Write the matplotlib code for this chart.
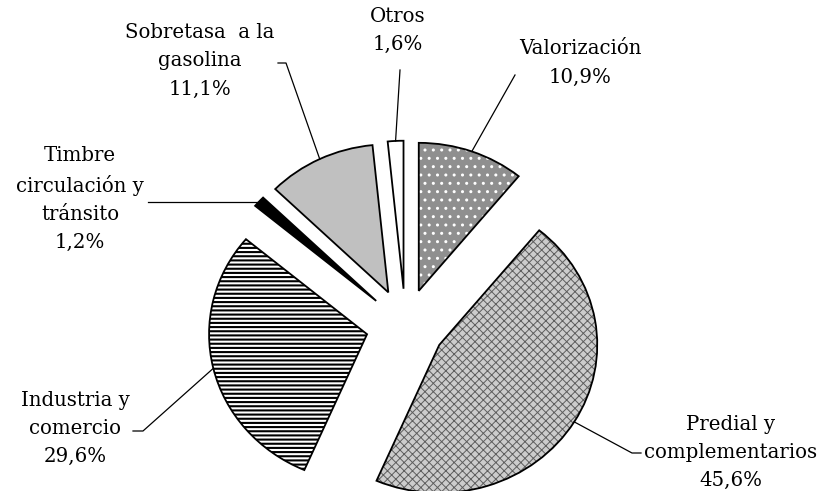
import numpy as np
import matplotlib.pyplot as plt

labels = ['Valorización', 'Predial y\ncomplementarios', 'Industria y\ncomercio',
          'Timbre\ncirculación y\ntránsito', 'Sobretasa  a la\ngasolina', 'Otros']
shares = [10.9, 45.6, 29.6, 1.2, 11.1, 1.6]

face = ['#8f8f8f', '#cccccc', 'white', 'black', '#c0c0c0', 'white']
hatch_col = ['white', '#5e5e5e', 'black', 'black', '#c0c0c0', 'white']
hatches = ['..', 'xxxx', '----', '', '', '']
hatch_lw = [1.0, 0.7, 1.5, 0.5, 0.5, 0.5]

# layout in pixels of the 823x491 picture (y from top)
cx, cy = 405.5, 325.7
rx, ry = 158, 148
text_pos = [(580, 63), (731, 452), (75, 428), (80, 199), (200, 61), (398, 30)]
leader = [[(515, 75)], [(632, 453), (641, 453)], [(143, 431), (133, 431)],
          [(148, None)], [(286, 63), (278, 63)], [(400, 70)]]


def px(x, y):
    return (x - cx) / rx, (cy - y) / ry


plt.rcParams['font.family'] = ['DejaVu Serif']
plt.rcParams['hatch.linewidth'] = 1.0

fig = plt.figure(figsize=(8.23, 4.91), dpi=100)
ax = fig.add_axes([0, 0, 1, 1])

explode = [0.25] * len(shares)
wedges, _ = ax.pie(shares, explode=explode, startangle=90, counterclock=False,
                   colors=face, wedgeprops={'linewidth': 0})
for w, h, hc, lw in zip(wedges, hatches, hatch_col, hatch_lw):
    w.set_edgecolor(hc)
    if h:
        w.set_hatch(h)
        if hasattr(w, 'set_hatch_linewidth'):
            w.set_hatch_linewidth(lw)
        else:
            w._hatch_linewidth = lw

outline, _ = ax.pie(shares, explode=explode, startangle=90, counterclock=False,
                    wedgeprops={'fill': False, 'edgecolor': 'black', 'linewidth': 1.3})

for w, lab, v, tp, ld in zip(outline, labels, shares, text_pos, leader):
    mid = np.deg2rad((w.theta1 + w.theta2) / 2)
    ax_, ay_ = w.center[0] + w.r * np.cos(mid), w.center[1] + w.r * np.sin(mid)
    xs, ys = [ax_], [ay_]
    for (lx, ly) in ld:
        if ly is None:
            xs.append(px(lx, 0)[0])
            ys.append(ay_)
        else:
            p = px(lx, ly)
            xs.append(p[0])
            ys.append(p[1])
    ax.plot(xs, ys, color='black', lw=0.9)
    txt = lab + '\n' + f'{v:.1f}%'.replace('.', ',')
    ax.text(*px(*tp), txt, ha='center', va='center', fontsize=14.2, linespacing=1.6)

ax.set_aspect('auto')
ax.set_xlim(-cx / rx, (823 - cx) / rx)
ax.set_ylim(-(491 - cy) / ry, cy / ry)
ax.axis('off')

fig.savefig('out.png', dpi=100)
